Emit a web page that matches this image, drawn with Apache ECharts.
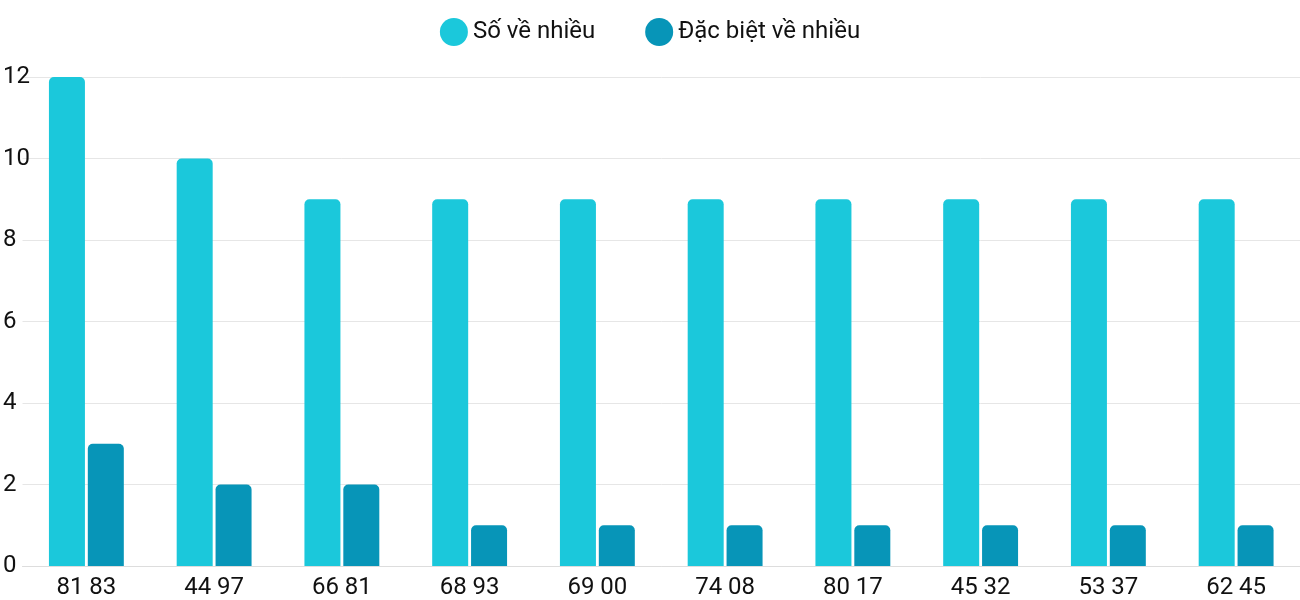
<!DOCTYPE html>
<html><head><meta charset="utf-8">
<script src="https://cdn.jsdelivr.net/npm/echarts@6/dist/echarts.min.js"></script>
<style>html,body{margin:0;padding:0;background:#fff}#c{width:1300px;height:600px}</style>
</head><body><div id="c"></div>
<script>
const categories = ["81 83","44 97","66 81","68 93","69 00","74 08","80 17","45 32","53 37","62 45"];
const soVeNhieu = [12,10,9,9,9,9,9,9,9,9];
const dacBiet = [3,2,2,1,1,1,1,1,1,1];
const chart = echarts.init(document.getElementById('c'));
chart.setOption({
  animation:false,
  textStyle:{fontFamily:'Roboto'},
  legend:{top:13,left:'center',itemWidth:28,itemHeight:28,itemGap:50,icon:'circle',
    textStyle:{fontSize:24,color:'#111',fontFamily:'Roboto'},data:['Số về nhiều','Đặc biệt về nhiều']},
  grid:{left:19.5,width:1310,top:77,bottom:34,containLabel:false},
  xAxis:{type:'category',data:categories,axisTick:{show:false},
    axisLine:{lineStyle:{color:'#ddd'}},
    axisLabel:{fontSize:24,color:'#111',margin:10}},
  yAxis:{type:'value',min:0,max:12,interval:2,
    splitLine:{lineStyle:{color:'#e6e6e6'}},
    axisLabel:{fontSize:24,color:'#111',align:'left',margin:19.5,verticalAlign:'middle'}},
  series:[
    {name:'Số về nhiều',type:'bar',data:soVeNhieu,barWidth:36,barGap:'8%',
      itemStyle:{color:'#1bc8db',borderRadius:[5,5,0,0]}},
    {name:'Đặc biệt về nhiều',type:'bar',data:dacBiet,barWidth:36,
      itemStyle:{color:'#0795b8',borderRadius:[5,5,0,0]}}
  ]
});
</script></body></html>
